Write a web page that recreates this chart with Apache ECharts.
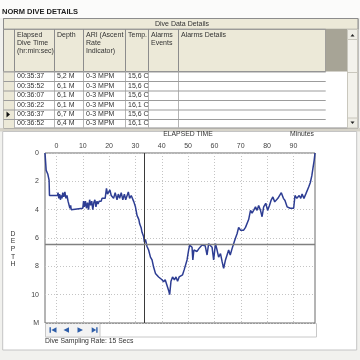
<!DOCTYPE html>
<html><head><meta charset="utf-8">
<script src="https://cdn.jsdelivr.net/npm/echarts@6/dist/echarts.min.js"></script>
<style>html,body{margin:0;padding:0;background:#f1f1ee}#c{width:360px;height:360px}</style>
</head><body><div id="c"></div>
<script>
// ---- data ----
const times = [-4.35,-3.9,-3.3,-2.8,-2.65,0.4,0.6,0.9,1.2,1.5,1.8,2.1,2.4,2.8,3.2,3.6,4.0,4.4,4.8,5.1,5.4,5.6,6.0,10.0,10.3,10.6,11.0,11.4,11.8,12.2,12.6,13.0,13.4,13.8,14.2,14.6,15.0,15.4,15.8,16.2,17.0,17.3,18.5,19.0,19.4,20.3,20.8,21.7,22.3,23.0,23.5,24.0,24.6,25.2,25.8,26.3,27.3,27.8,28.4,29.4,30.0,30.6,31.3,31.6,32.2,32.5,33.1,33.4,33.8,34.4,35.0,35.7,36.3,36.9,37.6,38.2,38.8,39.5,40.1,40.7,41.3,42.0,42.6,43.0,43.5,44.1,44.8,45.4,46.0,46.6,47.3,47.9,48.5,49.6,50.2,50.6,51.2,51.5,51.8,52.2,52.8,53.4,54.1,54.7,55.3,55.9,56.5,57.2,57.8,58.5,59.1,59.7,60.4,61.0,61.6,62.3,62.9,63.5,64.2,64.8,65.4,66.0,66.7,67.3,67.9,68.6,69.2,69.9,70.5,71.1,71.8,72.4,73.0,73.7,74.3,74.9,75.6,76.2,76.8,77.5,78.1,78.7,79.5,80.2,80.9,81.5,82.2,82.9,84.1,85.4,86.2,86.8,87.6,88.8,90.1,90.6,91.3,92.2,92.8,93.3,94.0,94.8,95.8,96.4,97.0,97.4,97.9,98.2];
const depths = [0,1.23,1.48,1.92,3.0,3.0,2.8,3.2,2.9,3.3,3.0,3.2,2.8,3.1,2.75,3.2,3.0,3.4,3.5,3.9,3.7,4.0,3.9,3.9,3.4,3.8,3.4,3.9,3.5,4.0,3.3,3.7,3.4,4.0,3.5,3.3,3.8,3.4,3.6,3.4,3.4,3.2,3.2,2.5,2.9,2.6,3.0,3.2,2.8,3.3,2.9,3.2,2.8,3.3,2.9,3.3,2.75,3.2,3.0,3.45,3.8,4.4,4.7,5.0,5.3,5.6,5.9,6.3,6.1,6.6,6.85,7.35,7.55,8.05,8.5,8.6,8.75,8.85,8.95,9.1,8.95,9.35,9.7,10.0,9.05,8.75,8.95,8.75,9.05,8.75,8.85,8.6,8.25,7.55,6.85,6.5,6.4,6.65,7.55,6.85,6.75,6.95,6.75,6.85,6.5,6.4,6.55,7.2,6.4,6.3,6.65,7.55,6.4,6.85,7.35,7.1,7.65,8.15,7.55,7.65,6.85,7.2,6.75,6.4,6.05,5.7,5.25,5.45,5.55,5.45,5.25,5.25,4.7,4.05,4.25,4.05,3.8,4.05,3.7,4.05,4.5,3.8,3.55,4.05,3.7,3.35,3.1,3.45,3.2,2.8,3.2,3.35,3.8,3.9,3.9,3.0,3.2,3.0,3.2,2.9,3.2,2.85,2.4,2.1,1.6,1.1,0.5,0];
const xTicks = [0,10,20,30,40,50,60,70,80,90];
const cursorTime = 33.3;
const cursorDepth = 6.46;
const rowTimes = ['00:35:37','00:35:52','00:36:07','00:36:22','00:36:37','00:36:52'];
const rowDepths = ['5,2 M','6,1 M','6,1 M','6,1 M','6,7 M','6,4 M'];
const rowAri = ['0-3 MPM','0-3 MPM','0-3 MPM','0-3 MPM','0-3 MPM','0-3 MPM'];
const rowTemps = ['15,6 C','15,6 C','15,6 C','16,1 C','15,6 C','16,1 C'];
const selectedRow = 4;

// ---- layout helpers ----
const FF = '"Liberation Sans", Arial, sans-serif';
const G = [];
function R(x,y,w,h,fill,stroke,z,lw){G.push({type:'rect',z:z==null?-5:z,silent:true,shape:{x,y,width:w,height:h},style:{fill:fill||'none',stroke:stroke||null,lineWidth:lw||1}});}
function L(x1,y1,x2,y2,c,lw,z){G.push({type:'line',z:z==null?-4:z,silent:true,shape:{x1,y1,x2,y2},style:{stroke:c,lineWidth:lw||1}});}
function T(text,x,y,o){G.push({type:'text',z:5,silent:true,style:Object.assign({text,x,y,font:'7px '+FF,fill:'#333',align:'left',verticalAlign:'middle'},o||{})});}
function P(pts,c){G.push({type:'polygon',z:5,silent:true,shape:{points:pts},style:{fill:c}});}

// title
R(0,0,360,18,'#fbfbfa',null,-9);
T('NORM DIVE DETAILS',2,12,{font:'bold 7.5px '+FF,fill:'#222'});
// table
R(3.5,18.5,354.5,109.5,'#ffffff','#8c8c8c',-8);
R(3.5,18.5,354.5,10.8,'#ece9d8','#8c8c8c',-7);
T('Dive Data Details',182,24,{align:'center'});
R(3.5,29.3,322.2,42.2,'#ece9d8','#8c8c8c',-7);
R(325.7,29.3,21.3,42.2,'#a7a496',null,-7);
R(3.5,71.5,10.5,56.5,'#ece9d8',null,-7);
const colX=[14,54,83,125,148,178];
colX.forEach(x=>{L(x+.5,29.3,x+.5,71.5,'#8c8c8c',1,-6);L(x+.5,71.5,x+.5,128,'#b4b4b4',1,-6);});
[71.5,81,90.5,100,109.5,119].forEach(y=>L(3.5,y+.5,325.7,y+.5,'#9c9c9c',1.2,-6));
// scrollbar
R(347.5,29.5,10,98,'#f3f2ec','#c9c7bd',-6);
R(347.5,29.5,10,10,'#eeede5','#c9c7bd',-6);
R(347.5,118,10,10,'#eeede5','#c9c7bd',-6);
L(347.5,72.5,357.5,72.5,'#c9c7bd',1,-6);
P([[350.5,36.5],[354.5,36.5],[352.5,34]],'#222');
P([[350.5,121.5],[354.5,121.5],[352.5,124]],'#222');
// column headers
T('Elapsed',17,35);T('Dive Time',17,43.3);T('(hr:min:sec)',17,51.5);
T('Depth',57,35);
T('ARI (Ascent',86,35);T('Rate',86,43.3);T('Indicator)',86,51.5);
T('Temp.',128,35);
T('Alarms',151,35);T('Events',151,43.3);
T('Alarms Details',181,35);
// rows
const rowY=[76.5,86,95.5,105,114.5,123.5];
rowTimes.forEach((t,i)=>{
  T(t,17,rowY[i]);T(rowDepths[i],57,rowY[i]);T(rowAri[i],86,rowY[i]);T(rowTemps[i],128,rowY[i]);
});
P([[6.5,rowY[selectedRow]-3],[6.5,rowY[selectedRow]+3],[10,rowY[selectedRow]]],'#111');
// chart panel
R(0,128,360,3.5,'#d6d3c9',null,-9);
R(2.7,131.5,354,218.5,'#ffffff','#c4c4c4',-8);
T('ELAPSED TIME',188,133.8,{align:'center',font:'6.8px '+FF});
T('Minutes',302,133.8,{align:'center',font:'6.8px '+FF});
'DEPTH'.split('').forEach((ch,i)=>T(ch,13,234+i*7.6,{align:'center',font:'6.8px '+FF}));
// navigator
R(45.5,323.5,271,13.5,'#ffffff','#c8c8c8',-6);
R(45.5,323.5,54.5,13.5,'#f3f3f3','#c8c8c8',-6);
const BL='#2f5ea9';
R(49.5,327.3,1.4,5.4,BL,null,5);P([[56.5,327.3],[56.5,332.7],[51.3,330]],BL);
P([[69,327.3],[69,332.7],[63.5,330]],BL);
P([[77.5,327.3],[77.5,332.7],[83,330]],BL);
P([[91.7,327.3],[91.7,332.7],[96.2,330]],BL);R(96.2,327.3,1.4,5.4,BL,null,5);
T('Dive Sampling Rate: 15 Secs',45,341,{font:'6.8px '+FF});

const chart = echarts.init(document.getElementById('c'), null, {renderer:'canvas'});
chart.setOption({
  animation:false,
  backgroundColor:'#f1f1ee',
  grid:{left:45,top:153,width:270,height:170,show:true,backgroundColor:'#ffffff',borderColor:'#6a6a6a',borderWidth:1,z:0},
  xAxis:{type:'value',position:'top',min:-4.35,max:98.2,z:1,
    axisLine:{show:false},
    axisTick:{show:false,customValues:xTicks},
    axisLabel:{customValues:xTicks,fontSize:7,fontFamily:FF,color:'#444',margin:3},
    splitLine:{show:true,lineStyle:{color:'#c4c4c4',type:[1,2],width:1}}},
  yAxis:{type:'value',inverse:true,min:0,max:12,interval:2,z:1,
    axisLine:{show:false},axisTick:{show:false},
    axisLabel:{fontSize:7,fontFamily:FF,color:'#444',margin:6,padding:[7,0,0,0],
      formatter:v=>v===12?'M':String(v),showMinLabel:true,showMaxLabel:true},
    splitLine:{show:true,lineStyle:{color:'#c4c4c4',type:[1,2],width:1}}},
  series:[{type:'line',data:times.map((t,i)=>[t,depths[i]]),showSymbol:false,symbol:'none',
    lineStyle:{color:'#2d3d93',width:1.5},z:3,
    markLine:{silent:true,symbol:'none',label:{show:false},animation:false,
      data:[{xAxis:cursorTime,lineStyle:{color:'#3a3a3a',width:1,type:'solid'}},
            {yAxis:cursorDepth,lineStyle:{color:'#808080',width:1.4,type:'solid'}}]}}],
  graphic:G
});
</script></body></html>
